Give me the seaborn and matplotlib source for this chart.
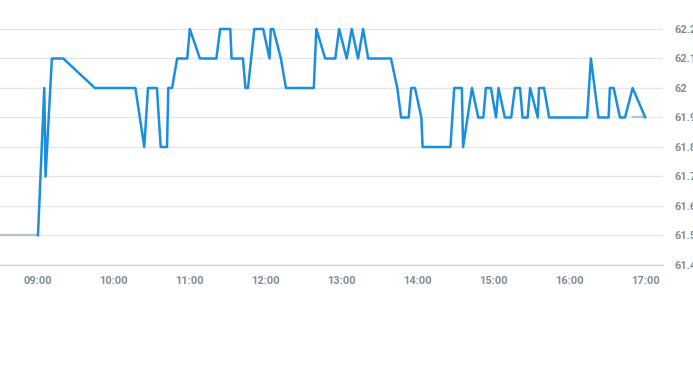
import pandas as pd
import numpy as np
import matplotlib
matplotlib.use('Agg')
import matplotlib.pyplot as plt
import matplotlib.dates as mdates
import seaborn as sns

# Price ticks (time of day, price)
times = ['09:00', '09:05', '09:06', '09:11', '09:20', '09:45', '10:17', '10:24', '10:27', '10:34',
         '10:37', '10:42', '10:43', '10:46', '10:50', '10:58', '11:00', '11:08', '11:21', '11:24',
         '11:32', '11:33', '11:42', '11:44', '11:46', '11:51', '11:58', '12:03', '12:04', '12:06',
         '12:12', '12:16', '12:38', '12:40', '12:47', '12:55', '12:58', '13:04', '13:08', '13:13',
         '13:17', '13:21', '13:39', '13:44', '13:47', '13:53', '13:55', '13:58', '14:03', '14:04',
         '14:26', '14:29', '14:35', '14:36', '14:43', '14:48', '14:52', '14:54', '14:58', '15:02',
         '15:04', '15:09', '15:14', '15:17', '15:21', '15:23', '15:27', '15:29', '15:35', '15:36',
         '15:40', '15:44', '16:14', '16:17', '16:23', '16:31', '16:32', '16:35', '16:40', '16:44',
         '16:50', '17:00']
prices = [61.5, 62.0, 61.7, 62.1, 62.1, 62.0, 62.0, 61.8, 62.0, 62.0,
          61.8, 61.8, 62.0, 62.0, 62.1, 62.1, 62.2, 62.1, 62.1, 62.2,
          62.2, 62.1, 62.1, 62.0, 62.0, 62.2, 62.2, 62.1, 62.2, 62.2,
          62.1, 62.0, 62.0, 62.2, 62.1, 62.1, 62.2, 62.1, 62.2, 62.1,
          62.2, 62.1, 62.1, 62.0, 61.9, 61.9, 62.0, 62.0, 61.9, 61.8,
          61.8, 62.0, 62.0, 61.8, 62.0, 61.9, 61.9, 62.0, 62.0, 61.9,
          62.0, 61.9, 61.9, 62.0, 62.0, 61.9, 61.9, 62.0, 61.9, 62.0,
          62.0, 61.9, 61.9, 62.1, 61.9, 61.9, 62.0, 62.0, 61.9, 61.9,
          62.0, 61.9]

# previous close / last price references (gray)
prev_close_times = ['08:30', '09:00']
prev_close = [61.5, 61.5]
last_times = ['16:50', '17:00']
last_price = [61.9, 61.9]

y_ticks = [61.4, 61.5, 61.6, 61.7, 61.8, 61.9, 62.0, 62.1, 62.2]
y_labels = ['61.4', '61.5', '61.6', '61.7', '61.8', '61.9', '62', '62.1', '62.2']
x_ticks = ['09:00', '10:00', '11:00', '12:00', '13:00', '14:00', '15:00', '16:00', '17:00']

day = '2024-01-02 '
to_dt = lambda ts: pd.to_datetime([day + t for t in ts])

df = pd.DataFrame({'time': to_dt(times), 'price': prices})
df_prev = pd.DataFrame({'time': to_dt(prev_close_times), 'price': prev_close})
df_last = pd.DataFrame({'time': to_dt(last_times), 'price': last_price})

sns.set_style('white')
plt.rcParams['font.family'] = ['Roboto', 'DejaVu Sans']

fig = plt.figure(figsize=(6.93, 3.65), dpi=100)
ax = fig.add_axes([0, 100 / 365, 663 / 693, 255 / 365])

sns.lineplot(data=df_prev, x='time', y='price', ax=ax, color='#b8bfc7', linewidth=1.6)
sns.lineplot(data=df_last, x='time', y='price', ax=ax, color='#b8bfc7', linewidth=1.6)
sns.lineplot(data=df, x='time', y='price', ax=ax, color='#1a8fe0', linewidth=1.8)

ax.set_xlim(pd.Timestamp(day + '08:30'), pd.Timestamp(day + '17:14'))
ax.set_ylim(61.4, 61.4 + 0.8 * 255 / 236)
ax.set_xticks(to_dt(x_ticks))
ax.xaxis.set_major_formatter(mdates.DateFormatter('%H:%M'))
ax.set_yticks(y_ticks)
ax.set_yticklabels(y_labels)
ax.yaxis.tick_right()

ax.grid(axis='y', color='#e3e6ea', linewidth=1)
ax.grid(axis='x', visible=False)
for s in ['top', 'left', 'right']:
    ax.spines[s].set_visible(False)
ax.spines['bottom'].set_color('#ccd3db')
ax.spines['bottom'].set_linewidth(1)

ax.tick_params(axis='x', colors='#ccd3db', length=5, width=1, labelcolor='#7f8c9a',
               labelsize=8, pad=3)
ax.tick_params(axis='y', length=0, labelcolor='#7f8c9a', labelsize=8, pad=8)
for lab in ax.get_xticklabels() + ax.get_yticklabels():
    lab.set_fontweight('bold')

ax.set_xlabel('')
ax.set_ylabel('')

fig.savefig('out.png', dpi=100)
